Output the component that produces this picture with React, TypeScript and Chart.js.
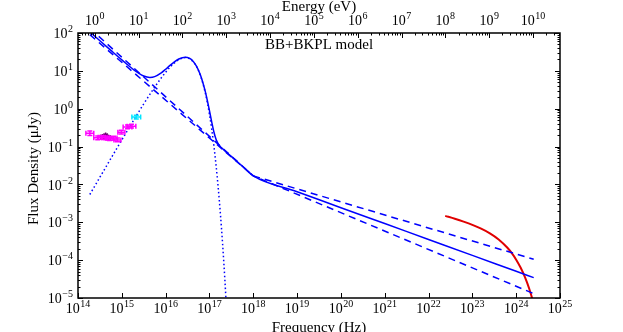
import React, { useEffect, useRef } from "react";
import { Chart, registerables } from "chart.js";

Chart.register(...registerables);

// ---------- DATA ----------
const freqTickExps = [14, 15, 16, 17, 18, 19, 20, 21, 22, 23, 24, 25];
const energyTickExps = [0, 1, 2, 3, 4, 5, 6, 7, 8, 9, 10];
const fluxTickExps = [-5, -4, -3, -2, -1, 0, 1, 2];
const LOG_HZ_PER_EV = 14.3836; // log10 of Hz per eV

// total model (BB + BKPL), log10 frequency (Hz) and flux (uJy)
const totalLogFreq = [
  14.27, 14.5, 14.75, 15.0, 15.25, 15.5, 15.64, 15.75, 15.9, 16.0, 16.1, 16.2, 16.3,
  16.45, 16.55, 16.6, 16.7, 16.8, 16.9, 16.95, 17.0, 17.05, 17.1, 17.15, 17.2, 17.25,
  17.3, 17.4, 17.6, 17.8, 18.0, 19.0, 20.0, 21.0, 22.0, 23.0, 24.0, 24.4,
];
const totalFlux = [
  107.4, 62.5, 34.8, 19.5, 11.2, 7.31, 6.7, 7.04, 8.84, 11.0, 13.9, 17.3, 20.6,
  23.0, 21.4, 19.4, 13.6, 7.47, 3.01, 1.69, 0.887, 0.454, 0.246, 0.156, 0.118, 0.0996,
  0.0874, 0.0689, 0.0431, 0.0269, 0.0168, 0.0064, 0.00243, 9.25e-4, 3.52e-4, 1.34e-4, 5.08e-5, 3.45e-5,
];

// blackbody component (dotted)
const bbLogFreq = [
  14.27, 14.5, 14.75, 15.0, 15.25, 15.5, 15.75, 15.9, 16.0, 16.1, 16.2, 16.3, 16.45,
  16.55, 16.6, 16.7, 16.8, 16.9, 16.95, 17.0, 17.05, 17.1, 17.15, 17.2, 17.25, 17.3, 17.35, 17.4,
];
const bbFlux = [
  0.00542, 0.0155, 0.0484, 0.15, 0.455, 1.34, 3.72, 6.51, 9.17, 12.5, 16.2, 19.7, 22.4,
  20.8, 18.9, 13.3, 7.19, 2.79, 1.5, 0.711, 0.297, 0.107, 0.0324, 0.00815, 0.00166, 2.68e-4, 3.3e-5, 3.0e-6,
];

// broken power-law uncertainty envelope (dashed)
const plLogFreq = [14.27, 18.0, 24.4];
const plUpperFlux = [90.4, 0.0168, 1.057e-4];
const plLowerFlux = [133, 0.0168, 1.306e-5];

// gamma-ray model (red)
const gammaLogFreq = [22.38, 22.6, 22.8, 23.0, 23.2, 23.4, 23.6, 23.8, 23.9, 24.0, 24.1, 24.2, 24.3, 24.4];
const gammaFlux = [1.48e-3, 1.24e-3, 1.04e-3, 8.55e-4, 6.78e-4, 5.1e-4, 3.52e-4, 2.12e-4, 1.53e-4, 1.03e-4, 6.37e-5, 3.55e-5, 1.73e-5, 7.1e-6];

// UV/optical photometry (magenta) with errors (log freq half width, flux dex half width)
const magLogFreq = [14.27, 14.45, 14.54, 14.63, 14.72, 14.81, 14.9, 14.99, 15.13, 15.22];
const magFlux = [0.225, 0.17, 0.175, 0.17, 0.163, 0.168, 0.15, 0.24, 0.33, 0.345];
const magLogFreqErr = [0.09, 0.09, 0.08, 0.08, 0.08, 0.08, 0.08, 0.08, 0.1, 0.1];
const magFluxErrDex = [0.06, 0.05, 0.05, 0.05, 0.05, 0.05, 0.05, 0.05, 0.05, 0.05];

const cyanLogFreq = [15.33];
const cyanFlux = [0.6];
const cyanLogFreqErr = [0.1];
const cyanFluxErrDex = [0.05];

const purpleLogFreq = [14.56, 14.63, 14.7];
const purpleFlux = [0.18, 0.195, 0.172];

// ---------- helpers ----------
const SERIF = '"Liberation Serif", "DejaVu Serif", serif';
const toXY = (lf: number[], fl: number[]) => lf.map((v, i) => ({ x: Math.pow(10, v), y: fl[i] }));

const supDigits: Record<string, string> = { "-": "\u2212" };
const expStr = (e: number) => String(e).split("").map((c) => supDigits[c] || c).join("");

function drawPow(ctx: CanvasRenderingContext2D, e: number, x: number, y: number, align: "center" | "right") {
  ctx.font = `14px ${SERIF}`;
  const bw = ctx.measureText("10").width;
  ctx.font = `10px ${SERIF}`;
  const s = expStr(e);
  const sw = ctx.measureText(s).width;
  const total = bw + sw + 0.5;
  const start = align === "center" ? x - total / 2 : x - total;
  ctx.textAlign = "left";
  ctx.textBaseline = "middle";
  ctx.font = `14px ${SERIF}`;
  ctx.fillText("10", start, y);
  ctx.font = `10px ${SERIF}`;
  ctx.fillText(s, start + bw + 0.5, y - 5);
}

const decorPlugin = {
  id: "decor",
  afterDatasetsDraw(chart: any) {
    const { ctx, scales } = chart;
    const xs = scales.x;
    const ys = scales.y;
    const px = (lf: number) => xs.getPixelForValue(Math.pow(10, lf));

    const drawErr = (lf: number[], fl: number[], lfe: number[], fde: number[], color: string) => {
      ctx.save();
      ctx.strokeStyle = color;
      ctx.lineWidth = 1.5;
      for (let i = 0; i < lf.length; i++) {
        const cx = px(lf[i]);
        const cy = ys.getPixelForValue(fl[i]);
        const x0 = px(lf[i] - lfe[i]);
        const x1 = px(lf[i] + lfe[i]);
        const y0 = ys.getPixelForValue(fl[i] * Math.pow(10, -fde[i]));
        const y1 = ys.getPixelForValue(fl[i] * Math.pow(10, fde[i]));
        ctx.beginPath();
        ctx.moveTo(x0, cy); ctx.lineTo(x1, cy);
        ctx.moveTo(x0, cy - 2.5); ctx.lineTo(x0, cy + 2.5);
        ctx.moveTo(x1, cy - 2.5); ctx.lineTo(x1, cy + 2.5);
        ctx.moveTo(cx, y0); ctx.lineTo(cx, y1);
        ctx.moveTo(cx - 2.5, y0); ctx.lineTo(cx + 2.5, y0);
        ctx.moveTo(cx - 2.5, y1); ctx.lineTo(cx + 2.5, y1);
        ctx.stroke();
      }
      ctx.restore();
    };
    drawErr(magLogFreq, magFlux, magLogFreqErr, magFluxErrDex, "#ff00ff");
    drawErr(cyanLogFreq, cyanFlux, cyanLogFreqErr, cyanFluxErrDex, "#00e5ff");
  },
  afterDraw(chart: any) {
    const { ctx, chartArea: a, scales } = chart;
    const xs = scales.x;
    const ys = scales.y;
    ctx.save();
    ctx.fillStyle = "#000";
    ctx.strokeStyle = "#000";

    ctx.lineWidth = 1;
    ctx.beginPath();
    freqTickExps.forEach((e) => {
      const x = Math.round(xs.getPixelForValue(Math.pow(10, e))) + 0.5;
      ctx.moveTo(x, a.bottom); ctx.lineTo(x, a.bottom - 5);
    });
    for (let e = -1; e <= 11; e++) {
      for (let m = 1; m <= 9; m++) {
        const v = Math.pow(10, e + LOG_HZ_PER_EV) * m;
        if (v < 1e14 || v > 1e25) continue;
        const x = Math.round(xs.getPixelForValue(v)) + 0.5;
        const len = m === 1 ? 5 : 2.5;
        ctx.moveTo(x, a.top); ctx.lineTo(x, a.top + len);
      }
    }
    for (let e = -5; e <= 2; e++) {
      for (let m = 1; m <= 9; m++) {
        const v = Math.pow(10, e) * m;
        if (v > 100.0001) continue;
        const y = Math.round(ys.getPixelForValue(v)) + 0.5;
        const len = m === 1 ? 5 : 2.5;
        ctx.moveTo(a.left, y); ctx.lineTo(a.left + len, y);
        ctx.moveTo(a.right, y); ctx.lineTo(a.right - len, y);
      }
    }
    ctx.stroke();

    ctx.lineWidth = 1.5;
    ctx.strokeRect(a.left, a.top, a.right - a.left, a.bottom - a.top);

    freqTickExps.forEach((e) => drawPow(ctx, e, xs.getPixelForValue(Math.pow(10, e)), a.bottom + 11, "center"));
    energyTickExps.forEach((e) =>
      drawPow(ctx, e, xs.getPixelForValue(Math.pow(10, e + LOG_HZ_PER_EV)), a.top - 11.5, "center")
    );
    fluxTickExps.forEach((e) => drawPow(ctx, e, a.left - 5, ys.getPixelForValue(Math.pow(10, e)) + 1.5, "right"));

    ctx.font = `15px ${SERIF}`;
    ctx.textAlign = "center";
    ctx.textBaseline = "alphabetic";
    const cx = (a.left + a.right) / 2;
    ctx.fillText("Frequency (Hz)", cx, 332);
    ctx.fillText("Energy (eV)", cx, 10.5);
    ctx.textAlign = "left";
    ctx.fillText("BB+BKPL model", 265, 48.5);

    ctx.save();
    ctx.translate(38, (a.top + a.bottom) / 2 + 3);
    ctx.rotate(-Math.PI / 2);
    ctx.textAlign = "center";
    ctx.textBaseline = "alphabetic";
    ctx.fillText("Flux Density (\u03bcJy)", 0, 0);
    ctx.restore();

    ctx.restore();
  },
};

export default function App() {
  const ref = useRef<HTMLCanvasElement | null>(null);
  useEffect(() => {
    document.body.style.margin = "0";
    const canvas = ref.current;
    if (!canvas) return;
    const blue = "#0000ff";
    const chart = new Chart(canvas, {
      type: "line",
      data: {
        datasets: [
          {
            label: "BB",
            data: toXY(bbLogFreq, bbFlux),
            borderColor: blue,
            borderWidth: 1.5,
            borderDash: [1.5, 2.5],
            pointRadius: 0,
            cubicInterpolationMode: "monotone",
            fill: false,
          },
          {
            label: "PL upper",
            data: toXY(plLogFreq, plUpperFlux),
            borderColor: blue,
            borderWidth: 1.5,
            borderDash: [7, 5],
            pointRadius: 0,
            fill: false,
          },
          {
            label: "PL lower",
            data: toXY(plLogFreq, plLowerFlux),
            borderColor: blue,
            borderWidth: 1.5,
            borderDash: [7, 5],
            pointRadius: 0,
            fill: false,
          },
          {
            label: "Total",
            data: toXY(totalLogFreq, totalFlux),
            borderColor: blue,
            borderWidth: 1.5,
            pointRadius: 0,
            cubicInterpolationMode: "monotone",
            fill: false,
          },
          {
            label: "Gamma",
            data: toXY(gammaLogFreq, gammaFlux),
            borderColor: "#e00000",
            borderWidth: 2,
            pointRadius: 0,
            cubicInterpolationMode: "monotone",
            fill: false,
          },
          {
            label: "UVOT",
            data: toXY(magLogFreq, magFlux),
            showLine: false,
            pointRadius: 0,
            borderColor: "#ff00ff",
            backgroundColor: "#ff00ff",
          },
          {
            label: "Optical",
            data: toXY(purpleLogFreq, purpleFlux),
            showLine: false,
            pointStyle: "star",
            pointRadius: 3,
            borderWidth: 1.5,
            borderColor: "#6a0070",
            backgroundColor: "#6a0070",
          },
        ],
      },
      options: {
        animation: false,
        responsive: false,
        devicePixelRatio: 1,
        layout: { padding: { left: 78, right: 63, top: 33, bottom: 34 } },
        plugins: { legend: { display: false }, tooltip: { enabled: false }, title: { display: false } },
        scales: {
          x: { type: "logarithmic", min: 1e14, max: 1e25, display: false },
          y: { type: "logarithmic", min: 1e-5, max: 1e2, display: false },
        },
      },
      plugins: [decorPlugin],
    } as any);
    return () => chart.destroy();
  }, []);
  return <canvas ref={ref} width={623} height={332} style={{ display: "block" }} />;
}
